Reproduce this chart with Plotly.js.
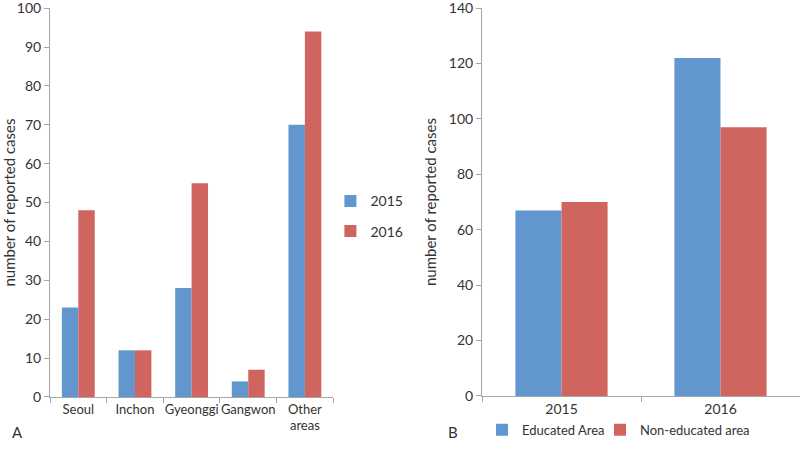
<!DOCTYPE html>
<html><head><meta charset="utf-8">
<script src="https://cdn.plot.ly/plotly-3.0.1.min.js"></script>
<style>html,body{margin:0;padding:0;background:#fff}</style>
</head><body>
<div id="chart" style="width:800px;height:452px"></div>
<script>
const regions = ["Seoul", "Inchon", "Gyeonggi", "Gangwon", "Other<br>areas"];
const cases2015 = [23, 12, 28, 4, 70];
const cases2016 = [48, 12, 55, 7, 94];
const years = ["2015", "2016"];
const educated = [67, 122];
const nonEducated = [70, 97];

const BLUE = "#6197CE", RED = "#D0655F";
const FONT = "Lato, Open Sans, sans-serif";
const TXT = "#333333", AX = "#A6A6A6";

const traces = [
  {type: "bar", x: regions, y: cases2015, name: "2015", marker: {color: BLUE}, xaxis: "x", yaxis: "y", legend: "legend", legendgroup: "a"},
  {type: "bar", x: regions, y: cases2016, name: "2016", marker: {color: RED}, xaxis: "x", yaxis: "y", legend: "legend", legendgroup: "b"},
  {type: "bar", x: years, y: educated, name: "Educated Area", marker: {color: BLUE}, xaxis: "x2", yaxis: "y2", legend: "legend2"},
  {type: "bar", x: years, y: nonEducated, name: "Non-educated area", marker: {color: RED}, xaxis: "x2", yaxis: "y2", legend: "legend3"}
];

const common = {showgrid: false, zeroline: false, showline: true, linecolor: AX, linewidth: 1,
  ticks: "outside", ticklen: 5, tickcolor: AX, tickfont: {family: FONT, size: 14, color: TXT},
  automargin: false, fixedrange: true, ticklabeloverflow: "allow"};

const legFont = {family: FONT, size: 13, color: TXT};

const layout = {
  width: 800, height: 452,
  margin: {l: 0, r: 0, t: 0, b: 0},
  paper_bgcolor: "#fff", plot_bgcolor: "#fff",
  barmode: "group", bargap: 0.42, bargroupgap: 0,
  font: {family: FONT, color: TXT},
  xaxis: Object.assign({}, common, {domain: [0.0625, 0.4165], type: "category", tickson: "boundaries", tickangle: 0, anchor: "y",
    tickfont: {family: FONT, size: 13, color: TXT}}),
  yaxis: Object.assign({}, common, {domain: [0.1217, 0.982], range: [0, 100], tickmode: "array", tickvals: [0,10,20,30,40,50,60,70,80,90,100], anchor: "x",
    title: {text: "number of reported cases", font: {family: FONT, size: 15, color: TXT}, standoff: 8}}),
  xaxis2: Object.assign({}, common, {domain: [0.6025, 1.0], type: "category", tickson: "boundaries", tickangle: 0, anchor: "y2"}),
  yaxis2: Object.assign({}, common, {domain: [0.1239, 0.982], range: [0, 140], tickmode: "array", tickvals: [0,20,40,60,80,100,120,140], anchor: "x2",
    title: {text: "number of reported cases", font: {family: FONT, size: 15, color: TXT}, standoff: 8}}),
  legend: {x: 0.413, y: 0.59, xanchor: "left", yanchor: "top", orientation: "v", tracegroupgap: 9,
    font: {family: FONT, size: 14, color: TXT}, bgcolor: "rgba(0,0,0,0)"},
  legend2: {x: 0.6025, y: 0.049, xanchor: "left", yanchor: "middle", orientation: "h",
    font: legFont, bgcolor: "rgba(0,0,0,0)"},
  legend3: {x: 0.75, y: 0.049, xanchor: "left", yanchor: "middle", orientation: "h",
    font: legFont, bgcolor: "rgba(0,0,0,0)"},
  annotations: [
    {text: "A", x: 0.012, y: 0.045, xref: "paper", yref: "paper", showarrow: false, xanchor: "left", yanchor: "middle", font: {family: FONT, size: 15, color: TXT}},
    {text: "B", x: 0.558, y: 0.045, xref: "paper", yref: "paper", showarrow: false, xanchor: "left", yanchor: "middle", font: {family: FONT, size: 15, color: TXT}}
  ]
};
Plotly.newPlot("chart", traces, layout, {displayModeBar: false, staticPlot: true});
</script>
</body></html>
